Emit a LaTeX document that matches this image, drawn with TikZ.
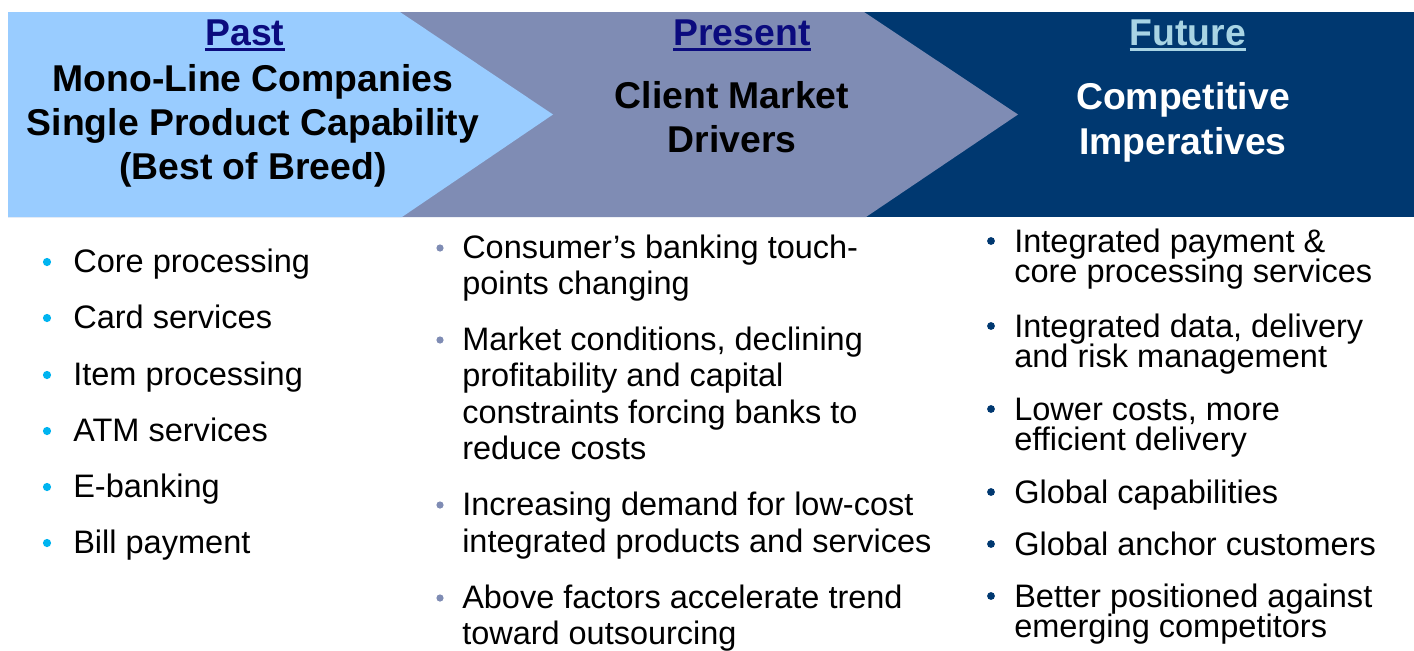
\documentclass[tikz,border=0pt]{standalone}
\usepackage{fontspec}
\setmainfont{Liberation Sans}
\definecolor{lbluec}{HTML}{99CCFF}
\definecolor{grayc}{HTML}{7F8CB4}
\definecolor{navyc}{HTML}{003870}
\definecolor{titlec}{HTML}{0B0B7E}
\definecolor{futc}{HTML}{A8D4E4}
\definecolor{cyanb}{HTML}{00B4F0}
\begin{document}
\begin{tikzpicture}[x=0.75pt,y=-0.75pt,
  hd/.style={inner sep=0pt,anchor=base,font=\fontsize{28}{33}\selectfont\bfseries},
  bl/.style={inner sep=0pt,anchor=base west,font=\fontsize{24.4}{29}\selectfont},
  bm/.style={inner sep=0pt,anchor=base west,font=\fontsize{24.35}{29}\selectfont},
  uline/.style={line width=2.2pt}]
\useasboundingbox (0,0) rectangle (1414,650);
\fill[white] (0,0) rectangle (1414,650);
% header band
\fill[navyc] (8,12) rectangle (1414,217);
\fill[grayc] (8,12) -- (864,12) -- (1018,114.5) -- (866,217) -- (8,217) -- cycle;
\fill[lbluec] (8,12) -- (400,12) -- (553,114.5) -- (402,217) -- (8,217) -- cycle;
% header texts
\node[hd,text=titlec] (past) at (245,45) {Past};
\draw[titlec,uline] ([yshift=-3.2pt]past.base west) -- ([yshift=-3.2pt]past.base east);
\node[hd] (pa1) at (253,91) {Mono-Line Companies};
\node[hd] (pa2) at (253,135) {Single Product Capability};
\node[hd] (pa3) at (253,179) {(Best of Breed)};
\node[hd,text=titlec] (pres) at (742,45) {Present};
\node[hd] (pr1) at (732,108) {Client Market};
\node[hd] (pr2) at (732,152) {Drivers};
\draw[titlec,uline] ([yshift=-3.2pt]pres.base west) -- ([yshift=-3.2pt]pres.base east);
\node[hd,text=futc] (fut) at (1188,45) {Future};
\draw[futc,uline] ([yshift=-3.2pt]fut.base west) -- ([yshift=-3.2pt]fut.base east);
\node[hd,text=white] (fu1) at (1183,109) {Competitive};
\node[hd,text=white] (fu2) at (1183,154) {Imperatives};
% left column
\foreach \yy in {262,318,375,431,487,543} \fill[cyanb] (47,\yy) circle (4.1);
\node[bl] (l1) at (73,272) {Core processing};
\node[bl] (l2) at (73,328) {Card services};
\node[bl] (l3) at (73,385) {Item processing};
\node[bl] (l4) at (73,441) {ATM services};
\node[bl] (l5) at (73,497) {E-banking};
\node[bl] (l6) at (73,553) {Bill payment};
% middle column
\foreach \yy in {248,340,505,598} \fill[grayc] (440,\yy) circle (3.6);
\node[bm] (m1a) at (462,258) {Consumer’s banking touch-};
\node[bm] (m1b) at (462,294) {points changing};
\node[bm] (m2a) at (462,350) {Market conditions, declining};
\node[bm] (m2b) at (462,386) {profitability and capital};
\node[bm] (m2c) at (462,423) {constraints forcing banks to};
\node[bm] (m2d) at (462,459) {reduce costs};
\node[bm] (m3a) at (462,515) {Increasing demand for low-cost};
\node[bm] (m3b) at (462,552) {integrated products and services};
\node[bm] (m4a) at (462,608) {Above factors accelerate trend};
\node[bm] (m4b) at (462,644) {toward outsourcing};
% right column
\foreach \yy in {241,326,409,492,544,596} \fill[navyc] (991,\yy) circle (3.9);
\node[bl] (r1a) at (1014,252) {Integrated payment \&};
\node[bl] (r1b) at (1014,282) {core processing services};
\node[bl] (r2a) at (1014,337) {Integrated data, delivery};
\node[bl] (r2b) at (1014,367) {and risk management};
\node[bl] (r3a) at (1014,420) {Lower costs, more};
\node[bl] (r3b) at (1014,450) {efficient delivery};
\node[bl] (r4) at (1014,503) {Global capabilities};
\node[bl] (r5) at (1014,555) {Global anchor customers};
\node[bl] (r6a) at (1014,607) {Better positioned against};
\node[bl] (r6b) at (1014,637) {emerging competitors};
\end{tikzpicture}
\end{document}
